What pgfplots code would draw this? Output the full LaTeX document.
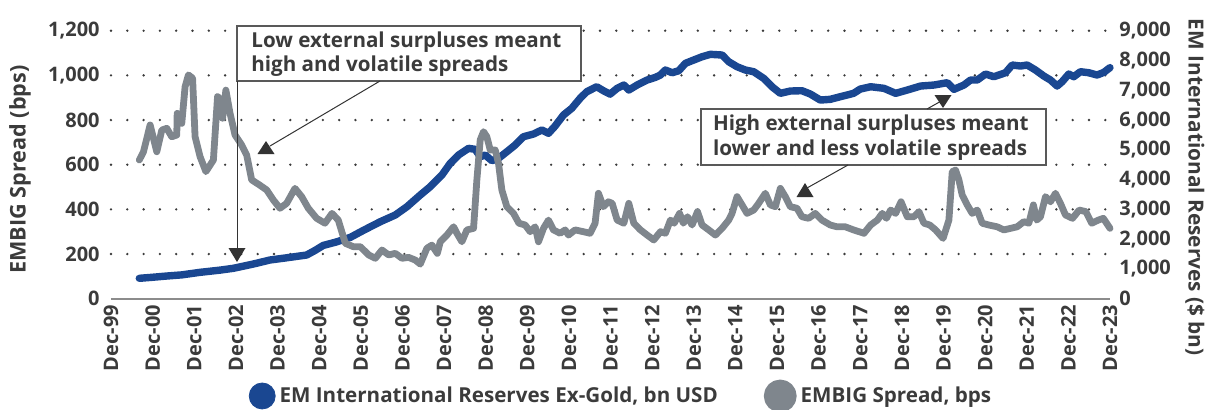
\documentclass[border=0pt]{standalone}
\usepackage{fontspec}
\setmainfont{Open Sans}
\usepackage{pgfplots}
\usepackage{pgfplotstable}
\pgfplotsset{compat=1.18}
\definecolor{emblue}{HTML}{1A4791}
\definecolor{emgray}{HTML}{7F868D}
\definecolor{txt}{HTML}{3B3B3B}

% t = years since Dec-99
\pgfplotstableread{
t v
0.68 685
1.00 720
1.34 762
1.70 800
2.14 886
2.62 960
2.94 1021
3.42 1165
3.82 1300
4.20 1370
4.70 1467
4.90 1620
5.10 1790
5.40 1900
5.75 2060
6.07 2300
6.47 2586
6.83 2811
7.11 3089
7.43 3482
7.67 3761
7.95 4154
8.15 4547
8.35 4826
8.59 5050
8.75 5017
8.87 4768
8.99 4826
9.15 4634
9.31 4715
9.51 4936
9.71 5161
9.91 5440
10.15 5531
10.35 5665
10.51 5554
10.67 5799
10.87 6169
11.07 6394
11.27 6729
11.43 6951
11.67 7119
11.83 6985
11.99 6870
12.16 7065
12.32 7176
12.44 7008
12.64 7176
12.88 7344
13.08 7434
13.20 7512
13.32 7680
13.48 7589
13.64 7656
13.80 7905
14.00 8016
14.20 8126
14.40 8207
14.68 8184
14.84 7959
15.04 7791
15.24 7680
15.44 7623
15.68 7401
15.88 7119
16.08 6897
16.32 6975
16.60 6985
16.80 6874
17.04 6672
17.28 6696
17.52 6783
17.84 6897
18.00 7040
18.25 7119
18.57 7065
18.85 6897
19.13 7008
19.45 7142
19.77 7176
20.09 7254
20.25 7031
20.49 7176
20.65 7344
20.81 7344
21.01 7545
21.21 7455
21.49 7589
21.65 7848
21.85 7814
22.01 7848
22.21 7680
22.41 7478
22.57 7344
22.73 7142
22.85 7287
23.01 7545
23.13 7455
23.29 7623
23.49 7589
23.69 7512
23.85 7600
24.00 7760
}\reserves

\pgfplotstableread{
t v
0.68 621
0.78 658
0.94 778
1.10 658
1.22 755
1.34 763
1.46 725
1.58 733
1.59 830
1.70 785
1.78 949
1.86 1002
1.96 987
2.02 725
2.14 636
2.28 569
2.46 621
2.56 905
2.64 890
2.68 808
2.76 934
2.86 830
2.98 733
3.14 688
3.26 643
3.38 532
3.57 509
3.74 487
3.90 442
4.06 405
4.22 427
4.42 494
4.58 457
4.74 405
4.94 360
5.14 338
5.31 382
5.46 352
5.63 248
5.82 233
5.99 233
6.19 196
6.35 181
6.51 218
6.67 196
6.83 203
6.99 181
7.15 185
7.31 173
7.43 155
7.59 226
7.71 240
7.84 203
7.91 255
8.07 285
8.23 322
8.31 293
8.43 255
8.55 308
8.71 315
8.79 532
8.87 711
8.95 748
9.03 725
9.11 666
9.23 666
9.31 606
9.39 487
9.51 412
9.67 382
9.80 338
9.95 330
10.07 300
10.19 322
10.27 255
10.39 315
10.51 352
10.63 308
10.79 293
10.91 308
10.99 285
11.15 308
11.35 300
11.51 293
11.63 338
11.71 472
11.83 412
11.95 434
12.04 427
12.16 352
12.32 338
12.44 427
12.56 338
12.72 308
12.88 285
13.04 263
13.20 300
13.32 293
13.44 352
13.53 338
13.66 382
13.75 338
13.85 367
13.96 330
14.09 390
14.20 330
14.36 308
14.52 285
14.68 315
14.84 352
14.92 382
15.04 457
15.16 420
15.28 382
15.44 397
15.56 427
15.72 472
15.84 420
15.96 412
16.08 494
16.20 457
16.32 412
16.48 405
16.60 367
16.76 360
16.92 382
17.08 352
17.28 330
17.44 322
17.64 322
17.84 308
18.09 293
18.25 330
18.41 352
18.53 382
18.63 360
18.73 397
18.85 382
18.98 434
19.13 367
19.29 367
19.41 390
19.53 338
19.67 330
19.81 308
19.99 270
20.13 352
20.21 569
20.29 576
20.37 532
20.45 464
20.57 420
20.69 382
20.81 397
20.93 338
21.09 330
21.29 322
21.45 308
21.61 315
21.77 322
21.93 345
22.05 338
22.16 420
22.24 352
22.33 367
22.45 457
22.57 434
22.69 472
22.81 427
22.93 375
23.10 360
23.26 397
23.42 390
23.56 338
23.72 352
23.84 360
24.00 315
}\spread

\begin{document}
\begin{tikzpicture}[font=\bfseries, text=txt]
\pgfplotsset{
  base/.style={
    scale only axis, width=499.5pt, height=134pt,
    xmin=0, xmax=24, at={(0,0)}, anchor=south west, clip=false,
    major tick length=0pt, minor tick length=0pt,
    /pgf/number format/1000 sep={,},
    /pgf/number format/assume math mode=true,
    scaled y ticks=false,
    tick label style={font=\bfseries\fontsize{10}{12}\selectfont, text=txt},
  }
}
% Reserves, right axis
\begin{axis}[base,
  axis x line=none,
  axis y line*=right,
  y axis line style={draw=none},
  ymin=0, ymax=9000,
  ytick={0,1000,...,9000},
  minor ytick={1500,3000,4500,6000,7500,9000},
  yminorgrids=true,
  minor grid style={draw=txt, line width=1.3pt, line cap=round, dash pattern=on 0pt off 8.15pt},
  yticklabel style={anchor=west, inner xsep=0pt, xshift=4.5pt},
]
\addplot[emblue, line width=3.7pt, line join=round, line cap=round] table[x=t, y=v] {\reserves};
\end{axis}
% Spread, left axis
\begin{axis}[base,
  axis y line*=left,
  axis x line*=bottom,
  y axis line style={draw=none},
  x axis line style={-, draw=black!45, line width=0.9pt},
  ymin=0, ymax=1200,
  ytick={0,200,...,1200},
  yticklabel style={anchor=east, inner xsep=0pt, xshift=-5.5pt},
  xtick={0,...,24},
  xticklabels={Dec-99,Dec-00,Dec-01,Dec-02,Dec-03,Dec-04,Dec-05,Dec-06,Dec-07,Dec-08,Dec-09,Dec-10,Dec-11,Dec-12,Dec-13,Dec-14,Dec-15,Dec-16,Dec-17,Dec-18,Dec-19,Dec-20,Dec-21,Dec-22,Dec-23},
  xticklabel style={rotate=90, anchor=east, inner sep=0pt, xshift=-3pt},
  legend columns=2,
  legend style={at={(0.5115,-0.363)}, anchor=center, draw=none, fill=none,
    font=\bfseries\fontsize{10.3}{12.5}\selectfont, text=txt,
    /tikz/every even column/.append style={column sep=21pt}},
]
\addlegendimage{legend image code/.code={\fill[emblue] (-5pt,0pt) circle (6.5pt);}}
\addlegendentry{EM International Reserves Ex-Gold, bn USD}
\addplot[emgray, line width=3.4pt, line join=round, line cap=round,
  legend image code/.code={\fill[emgray] (-5pt,0pt) circle (6.5pt);}] table[x=t, y=v] {\spread};
\addlegendentry{EMBIG Spread, bps}
\end{axis}

% axis titles
\node[rotate=90, font=\bfseries\fontsize{10.8}{12}\selectfont] at (-45.5pt,64.6pt) {EMBIG Spread (bps)};
\node[rotate=-90, anchor=west, font=\bfseries\fontsize{10.4}{12}\selectfont] at (542pt,143.4pt) {EM International Reserves (\$ bn)};

% annotation 1
\draw[draw=black!65, line width=0.6pt, fill=white] (63pt,108.85pt) rectangle (235pt,136.35pt);
\node[anchor=base west, inner sep=0pt, font=\bfseries\fontsize{10.3}{12}\selectfont] at (70pt,125.7pt) {Low external surpluses meant};
\node[anchor=base west, inner sep=0pt, font=\bfseries\fontsize{10.3}{12}\selectfont] at (70pt,113.5pt) {high and volatile spreads};
\draw[black!80, line width=0.5pt] (63pt,108.85pt) -- (63pt,22pt);
\fill[black!80] (63pt,18.35pt) -- (58.75pt,25.35pt) -- (67.25pt,25.35pt) -- cycle;
\draw[black!80, line width=0.5pt] (134.5pt,108.85pt) -- (79.5pt,76.35pt);
\fill[black!80] (77.5pt,78.85pt) -- (73.25pt,72.35pt) -- (81.75pt,72.35pt) -- cycle;

% annotation 2
\draw[draw=black!65, line width=0.6pt, fill=white] (295pt,66.85pt) rectangle (467.5pt,94.85pt);
\node[anchor=base west, inner sep=0pt, font=\bfseries\fontsize{10.3}{12}\selectfont] at (300.8pt,84.35pt) {High external surpluses meant};
\node[anchor=base west, inner sep=0pt, font=\bfseries\fontsize{10.3}{12}\selectfont] at (300.8pt,71.5pt) {lower and less volatile spreads};
\draw[black!80, line width=0.5pt] (408pt,94.85pt) -- (416pt,99.35pt);
\fill[black!80] (416pt,95.35pt) -- (411.75pt,101.85pt) -- (420.25pt,101.85pt) -- cycle;
\draw[black!80, line width=0.5pt] (368.5pt,66.85pt) -- (348pt,55.35pt);
\fill[black!80] (347pt,57.85pt) -- (342.75pt,50.85pt) -- (351.25pt,50.85pt) -- cycle;

\pgfresetboundingbox
\useasboundingbox (-55.5pt,-55.15pt) rectangle (548pt,149.35pt);
\end{tikzpicture}
\end{document}
